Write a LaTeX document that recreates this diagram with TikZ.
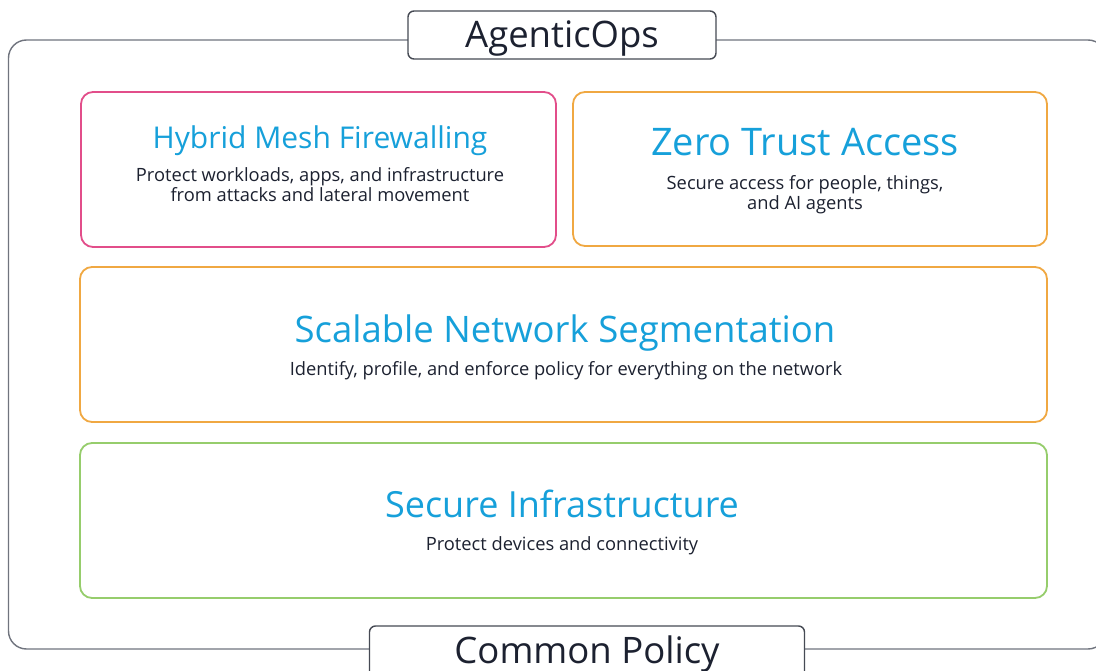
\documentclass[tikz,border=0pt]{standalone}
\usepackage{fontspec}
\setmainfont{Open Sans}
\definecolor{framegray}{RGB}{112,116,126}
\definecolor{labelgray}{RGB}{70,74,84}
\definecolor{inkdark}{RGB}{28,33,48}
\definecolor{titleblue}{RGB}{22,160,218}
\definecolor{pinkline}{RGB}{226,78,138}
\definecolor{orangeline}{RGB}{240,168,66}
\definecolor{greenline}{RGB}{150,205,108}
\tikzset{
  tile/.style={draw=#1, line width=1.8pt, rounded corners=12pt, fill=white, inner sep=0pt},
  tagbox/.style={draw=labelgray, line width=1.4pt, rounded corners=6pt, fill=white, inner sep=0pt},
  tagtext/.style={text=inkdark, font=\fontsize{36.5}{40}\selectfont, anchor=base, inner sep=0pt},
  ttl/.style={text=titleblue, font=\fontsize{#1}{#1}\selectfont, anchor=base, inner sep=0pt},
  sub/.style={text=inkdark, font=\fontsize{18.3}{20.5}\selectfont, anchor=base, inner sep=0pt, align=center},
}
\begin{document}
\begin{tikzpicture}[x=1pt, y=-1pt]
\useasboundingbox (0,0) rectangle (1096,671);
\fill[white] (0,0) rectangle (1096,671);

% outer frame shared by all layers
\draw[framegray, line width=1.4pt, rounded corners=18pt] (8.5,40) rectangle (1106,649);

% header and footer tags sitting on the frame
\node[tagbox, minimum width=308pt, minimum height=48pt] (opsbox) at (562,35) {};
\node[tagtext] (ops) at (562,48) {AgenticOps};
\node[tagbox, minimum width=435pt, minimum height=60pt] (polbox) at (587,656) {};
\node[tagtext] (pol) at (587,663) {Common Policy};

% top row (base of a two-line text is its last line)
\node[tile=pinkline, minimum width=475pt, minimum height=155pt] (hmf) at (318.5,169.5) {};
\node[ttl=30] (hmft) at (320,149) {Hybrid Mesh Firewalling};
\node[sub] (hmfs) at (320,202) {Protect workloads, apps, and infrastructure\\from attacks and lateral movement};

\node[tile=orangeline, minimum width=474pt, minimum height=154pt] (zta) at (810,169) {};
\node[ttl=38] (ztat) at (805,156) {Zero Trust Access};
\node[sub] (ztas) at (805,210) {Secure access for people, things,\\and AI agents};

% middle row
\node[tile=orangeline, minimum width=967pt, minimum height=155pt] (sns) at (563.5,344.5) {};
\node[ttl=36.5] (snst) at (565,343) {Scalable Network Segmentation};
\node[sub] (snss) at (566,375) {Identify, profile, and enforce policy for everything on the network};

% bottom row
\node[tile=greenline, minimum width=967pt, minimum height=155pt] (sin) at (563.5,520.5) {};
\node[ttl=36] (sint) at (562,517) {Secure Infrastructure};
\node[sub] (sins) at (562,550) {Protect devices and connectivity};
\end{tikzpicture}
\end{document}
